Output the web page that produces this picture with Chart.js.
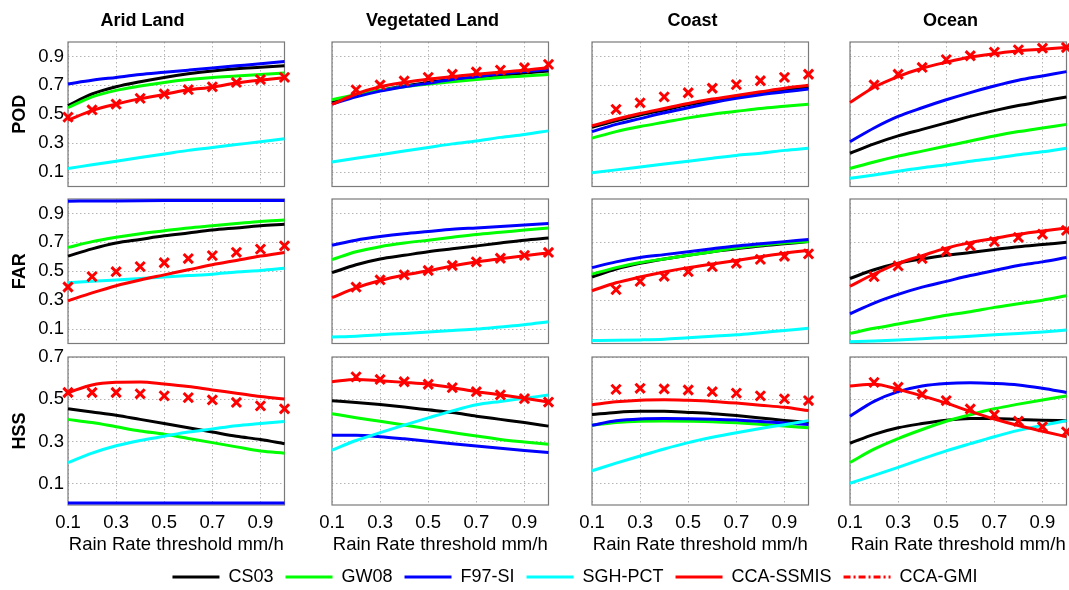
<!DOCTYPE html>
<html>
<head>
<meta charset="utf-8">
<script src="https://cdn.jsdelivr.net/npm/chart.js@4.4.1/dist/chart.umd.min.js"></script>
<style>
  body { margin: 0; background: #fff; }
  #wrap { position: relative; width: 1069px; height: 590px; overflow: hidden; background: #fff; }
  #wrap canvas { position: absolute; }
</style>
</head>
<body>
<div id="wrap"></div>
<script>
var thresholds = [0.1, 0.2, 0.3, 0.4, 0.5, 0.6, 0.7, 0.8, 0.9, 1.0];
var methods = ['CS03', 'GW08', 'F97-SI', 'SGH-PCT', 'CCA-SSMIS', 'CCA-GMI'];
var regions = ['Arid Land', 'Vegetated Land', 'Coast', 'Ocean'];
var metrics = ['POD', 'FAR', 'HSS'];
var xTicks = [0.1, 0.3, 0.5, 0.7, 0.9];
var yTicksPF = [0.1, 0.3, 0.5, 0.7, 0.9];
var yTicksHSS = [0.1, 0.3, 0.5, 0.7];
var xTitle = 'Rain Rate threshold mm/h';

// rows: CS03, GW08, F97-SI, SGH-PCT, CCA-SSMIS, CCA-GMI
var podArid = [
  [0.56, 0.64, 0.69, 0.725, 0.755, 0.78, 0.80, 0.815, 0.825, 0.835],
  [0.545, 0.62, 0.665, 0.695, 0.72, 0.74, 0.755, 0.765, 0.775, 0.785],
  [0.71, 0.735, 0.755, 0.775, 0.79, 0.805, 0.82, 0.835, 0.85, 0.865],
  [0.125, 0.15, 0.175, 0.2, 0.225, 0.25, 0.27, 0.29, 0.31, 0.33],
  [0.46, 0.525, 0.57, 0.608, 0.637, 0.669, 0.687, 0.716, 0.736, 0.752],
  [0.48, 0.53, 0.57, 0.61, 0.64, 0.67, 0.69, 0.72, 0.74, 0.755]
];
var podVeg = [
  [0.58, 0.63, 0.665, 0.695, 0.72, 0.74, 0.755, 0.77, 0.785, 0.80],
  [0.60, 0.635, 0.665, 0.69, 0.71, 0.725, 0.74, 0.755, 0.765, 0.775],
  [0.57, 0.62, 0.66, 0.69, 0.715, 0.74, 0.76, 0.78, 0.795, 0.81],
  [0.17, 0.195, 0.22, 0.245, 0.27, 0.295, 0.315, 0.34, 0.36, 0.385],
  [0.568, 0.64, 0.69, 0.72, 0.743, 0.76, 0.777, 0.791, 0.804, 0.822],
  [null, 0.669, 0.703, 0.73, 0.755, 0.777, 0.793, 0.806, 0.822, 0.845]
];
var podCoast = [
  [0.41, 0.455, 0.495, 0.53, 0.565, 0.595, 0.62, 0.645, 0.665, 0.685],
  [0.335, 0.38, 0.415, 0.445, 0.475, 0.50, 0.52, 0.54, 0.555, 0.57],
  [0.38, 0.43, 0.47, 0.51, 0.545, 0.58, 0.61, 0.635, 0.655, 0.675],
  [0.095, 0.115, 0.135, 0.155, 0.175, 0.195, 0.215, 0.23, 0.25, 0.265],
  [0.42, 0.465, 0.505, 0.54, 0.575, 0.605, 0.63, 0.655, 0.68, 0.70],
  [null, 0.534, 0.579, 0.62, 0.649, 0.68, 0.705, 0.732, 0.755, 0.777]
];
var podOcean = [
  [0.23, 0.295, 0.35, 0.395, 0.44, 0.485, 0.525, 0.56, 0.59, 0.62],
  [0.125, 0.17, 0.21, 0.245, 0.28, 0.315, 0.35, 0.38, 0.405, 0.43],
  [0.31, 0.405, 0.485, 0.545, 0.60, 0.65, 0.695, 0.735, 0.765, 0.795],
  [0.057, 0.08, 0.105, 0.13, 0.15, 0.175, 0.195, 0.22, 0.24, 0.265],
  [0.581, 0.687, 0.761, 0.818, 0.86, 0.896, 0.919, 0.939, 0.95, 0.962],
  [null, 0.703, 0.777, 0.824, 0.878, 0.905, 0.93, 0.946, 0.957, 0.962]
];

var farArid = [
  [0.605, 0.655, 0.695, 0.72, 0.745, 0.765, 0.785, 0.80, 0.815, 0.825],
  [0.665, 0.705, 0.735, 0.76, 0.78, 0.80, 0.815, 0.83, 0.845, 0.855],
  [0.985, 0.986, 0.987, 0.988, 0.989, 0.99, 0.99, 0.99, 0.99, 0.99],
  [0.42, 0.43, 0.44, 0.45, 0.46, 0.47, 0.48, 0.495, 0.505, 0.52],
  [0.295, 0.35, 0.40, 0.44, 0.475, 0.51, 0.545, 0.575, 0.605, 0.63],
  [0.391, 0.463, 0.497, 0.532, 0.559, 0.588, 0.608, 0.631, 0.653, 0.676]
];
var farVeg = [
  [0.49, 0.545, 0.585, 0.61, 0.635, 0.655, 0.675, 0.695, 0.715, 0.73],
  [0.58, 0.635, 0.67, 0.695, 0.715, 0.735, 0.755, 0.77, 0.785, 0.80],
  [0.68, 0.715, 0.74, 0.76, 0.775, 0.79, 0.80, 0.81, 0.82, 0.83],
  [0.045, 0.05, 0.06, 0.07, 0.08, 0.09, 0.10, 0.115, 0.13, 0.15],
  [0.317, 0.385, 0.436, 0.474, 0.503, 0.537, 0.564, 0.586, 0.608, 0.627],
  [null, 0.39, 0.44, 0.475, 0.505, 0.54, 0.565, 0.59, 0.61, 0.63]
];
var farCoast = [
  [0.46, 0.515, 0.555, 0.585, 0.61, 0.635, 0.655, 0.675, 0.69, 0.705],
  [0.48, 0.525, 0.56, 0.585, 0.61, 0.635, 0.66, 0.68, 0.695, 0.705],
  [0.525, 0.565, 0.595, 0.615, 0.635, 0.655, 0.675, 0.69, 0.705, 0.72],
  [0.02, 0.022, 0.025, 0.03, 0.04, 0.05, 0.06, 0.075, 0.09, 0.105],
  [0.365, 0.42, 0.46, 0.495, 0.525, 0.55, 0.575, 0.60, 0.625, 0.645],
  [null, 0.373, 0.43, 0.465, 0.497, 0.532, 0.555, 0.582, 0.604, 0.62]
];
var farOcean = [
  [0.45, 0.51, 0.555, 0.585, 0.61, 0.63, 0.65, 0.67, 0.685, 0.70],
  [0.07, 0.105, 0.135, 0.165, 0.195, 0.22, 0.25, 0.275, 0.30, 0.33],
  [0.205, 0.28, 0.34, 0.39, 0.43, 0.47, 0.505, 0.54, 0.565, 0.595],
  [0.012, 0.018, 0.025, 0.033, 0.042, 0.05, 0.06, 0.07, 0.08, 0.093],
  [0.396, 0.481, 0.555, 0.608, 0.66, 0.698, 0.727, 0.756, 0.779, 0.799],
  [null, 0.463, 0.537, 0.588, 0.638, 0.676, 0.705, 0.734, 0.756, 0.783]
];

var hssArid = [
  [0.455, 0.44, 0.425, 0.405, 0.385, 0.365, 0.345, 0.325, 0.31, 0.29],
  [0.405, 0.39, 0.37, 0.35, 0.335, 0.315, 0.295, 0.275, 0.255, 0.245],
  [0.01, 0.01, 0.01, 0.01, 0.01, 0.01, 0.01, 0.01, 0.01, 0.01],
  [0.20, 0.245, 0.28, 0.305, 0.325, 0.345, 0.36, 0.375, 0.385, 0.395],
  [0.532, 0.568, 0.58, 0.582, 0.572, 0.56, 0.544, 0.529, 0.513, 0.501],
  [0.532, 0.532, 0.532, 0.526, 0.516, 0.508, 0.497, 0.485, 0.469, 0.455]
];
var hssVeg = [
  [0.493, 0.485, 0.475, 0.463, 0.45, 0.437, 0.42, 0.405, 0.39, 0.373],
  [0.432, 0.413, 0.396, 0.378, 0.36, 0.343, 0.326, 0.31, 0.298, 0.287],
  [0.33, 0.33, 0.323, 0.313, 0.302, 0.29, 0.279, 0.268, 0.258, 0.248],
  [0.26, 0.305, 0.342, 0.378, 0.412, 0.445, 0.474, 0.49, 0.505, 0.52],
  [0.583, 0.594, 0.588, 0.58, 0.571, 0.555, 0.536, 0.521, 0.505, 0.487],
  [null, 0.606, 0.594, 0.583, 0.571, 0.555, 0.536, 0.521, 0.503, 0.487]
];
var hssCoast = [
  [0.428, 0.438, 0.443, 0.443, 0.438, 0.432, 0.423, 0.412, 0.40, 0.39],
  [0.377, 0.39, 0.396, 0.397, 0.396, 0.394, 0.389, 0.382, 0.374, 0.365],
  [0.377, 0.398, 0.407, 0.409, 0.408, 0.406, 0.402, 0.395, 0.388, 0.381],
  [0.162, 0.198, 0.232, 0.265, 0.295, 0.32, 0.342, 0.362, 0.38, 0.399],
  [0.474, 0.488, 0.496, 0.498, 0.495, 0.49, 0.482, 0.472, 0.462, 0.447],
  [null, 0.547, 0.552, 0.549, 0.544, 0.536, 0.529, 0.516, 0.502, 0.494]
];
var hssOcean = [
  [0.292, 0.334, 0.365, 0.385, 0.401, 0.409, 0.409, 0.404, 0.401, 0.399],
  [0.201, 0.264, 0.314, 0.357, 0.396, 0.427, 0.455, 0.477, 0.497, 0.516],
  [0.42, 0.49, 0.536, 0.563, 0.575, 0.578, 0.575, 0.568, 0.552, 0.532],
  [0.103, 0.14, 0.178, 0.218, 0.256, 0.29, 0.323, 0.353, 0.377, 0.399],
  [0.563, 0.571, 0.547, 0.516, 0.482, 0.443, 0.407, 0.376, 0.349, 0.323],
  [null, 0.58, 0.557, 0.524, 0.494, 0.454, 0.427, 0.396, 0.37, 0.346]
];

var grid = [
  [podArid, podVeg, podCoast, podOcean],
  [farArid, farVeg, farCoast, farOcean],
  [hssArid, hssVeg, hssCoast, hssOcean]
];

var colors = ['#000000', '#00ff00', '#0000ff', '#00ffff', '#ff0000', '#ff0000'];
var FONT = "'Liberation Sans', Arial, Helvetica, sans-serif";

// plot boxes (pixels)
var plotLeft = [68, 332, 592, 850];
var plotTop = [42, 199, 357];
var plotW = 217, plotH = 148;

var frame = {
  id: 'frame',
  beforeDatasetsDraw: function(chart) {
    var a = chart.chartArea, ctx = chart.ctx;
    ctx.save();
    ctx.strokeStyle = '#7a7a7a';
    ctx.lineWidth = 1.2;
    ctx.strokeRect(a.left, a.top, a.right - a.left, a.bottom - a.top);
    ctx.restore();
  }
};

var wrap = document.getElementById('wrap');

function makePanel(r, c) {
  var L = c == 0 ? 68 : 16;
  var T = r == 0 ? 42 : 14;
  var R = 9;
  var B = r == 2 ? 58 : 6;
  var cv = document.createElement('canvas');
  cv.width = L + plotW + R;
  cv.height = T + plotH + B;
  cv.style.left = (plotLeft[c] - L) + 'px';
  cv.style.top = (plotTop[r] - T) + 'px';
  wrap.appendChild(cv);

  var rows = grid[r][c];
  var datasets = [];
  for (var i = 0; i < methods.length; i++) {
    var pts = [];
    for (var k = 0; k < thresholds.length; k++) {
      pts.push({ x: thresholds[k], y: rows[i][k] });
    }
    var gmi = i == 5;
    datasets.push({
      label: methods[i],
      data: pts,
      borderColor: colors[i],
      backgroundColor: colors[i],
      borderWidth: 3,
      showLine: !gmi,
      pointStyle: gmi ? 'crossRot' : 'circle',
      pointRadius: gmi ? 6.5 : 0,
      pointBorderWidth: 3,
      cubicInterpolationMode: 'monotone',
      clip: false,
      order: methods.length - i
    });
  }

  var yTicks = r == 2 ? yTicksHSS : yTicksPF;
  new Chart(cv.getContext('2d'), {
    type: 'line',
    data: { datasets: datasets },
    options: {
      responsive: false,
      animation: false,
      events: [],
      layout: { padding: { left: 0, top: r == 0 ? 0 : T, right: R, bottom: 0 } },
      plugins: {
        legend: { display: false },
        tooltip: { enabled: false },
        title: {
          display: r == 0,
          text: regions[c],
          color: '#000',
          font: { family: FONT, size: 18, weight: 'bold', lineHeight: 1.2 },
          padding: { top: 10, bottom: 10.4 }
        }
      },
      scales: {
        x: {
          type: 'linear',
          min: 0.1,
          max: 1.0,
          afterBuildTicks: function(s) { s.ticks = xTicks.map(function(v) { return { value: v }; }); },
          afterFit: function(s) { s.height = B; s.paddingLeft = 0; s.paddingRight = 0; },
          grid: { color: '#b4b4b4', lineWidth: 1, drawTicks: false },
          border: { display: false, dash: [1.5, 2.5] },
          ticks: {
            display: r == 2,
            padding: 7,
            color: '#000',
            font: { family: FONT, size: 18.5 },
            maxRotation: 0,
            callback: function(v) { return v.toFixed(1); }
          },
          title: {
            display: r == 2,
            text: xTitle,
            color: '#000',
            font: { family: FONT, size: 18.5 },
            padding: { top: 0, bottom: 7 }
          }
        },
        y: {
          type: 'linear',
          min: 0,
          max: r == 2 ? 0.7 : 1.0,
          afterBuildTicks: function(s) { s.ticks = yTicks.map(function(v) { return { value: v }; }); },
          afterFit: function(s) { s.width = L; s.paddingTop = 0; s.paddingBottom = 0; },
          grid: { color: '#b4b4b4', lineWidth: 1, drawTicks: false },
          border: { display: false, dash: [1.5, 2.5] },
          ticks: {
            display: c == 0,
            padding: 4,
            color: '#000',
            font: { family: FONT, size: 18.5 },
            callback: function(v) { return v.toFixed(1); }
          },
          title: {
            display: c == 0,
            text: metrics[r],
            color: '#000',
            font: { family: FONT, size: 18, weight: 'bold', lineHeight: 1.2 },
            padding: { top: 9, bottom: 0 }
          }
        }
      }
    },
    plugins: [frame]
  });
}

for (var r = 0; r < metrics.length; r++) {
  for (var c = 0; c < regions.length; c++) {
    makePanel(r, c);
  }
}

// legend strip at the bottom (tall canvas so the legend box is not capped at half height)
var lg = document.createElement('canvas');
lg.width = 1000;
lg.height = 90;
lg.style.left = '75px';
lg.style.top = '556px';
wrap.appendChild(lg);
var legendSets = [];
for (var j = 0; j < methods.length; j++) {
  legendSets.push({
    label: methods[j],
    data: [],
    borderColor: colors[j],
    backgroundColor: colors[j],
    borderWidth: 3,
    pointStyle: 'line',
    borderDash: j == 5 ? [7, 3, 2, 3] : []
  });
}
new Chart(lg.getContext('2d'), {
  type: 'line',
  data: { datasets: legendSets },
  options: {
    responsive: false,
    animation: false,
    events: [],
    layout: { padding: 0 },
    scales: { x: { display: false }, y: { display: false } },
    plugins: {
      tooltip: { enabled: false },
      legend: {
        display: true,
        position: 'top',
        labels: {
          usePointStyle: true,
          pointStyleWidth: 47,
          padding: 12,
          color: '#000',
          font: { family: FONT, size: 18 },
          generateLabels: function(chart) {
            var items = Chart.defaults.plugins.legend.labels.generateLabels(chart);
            items.forEach(function(it) {
              it.lineDash = chart.data.datasets[it.datasetIndex].borderDash;
            });
            return items;
          }
        }
      }
    }
  }
});
</script>
</body>
</html>
